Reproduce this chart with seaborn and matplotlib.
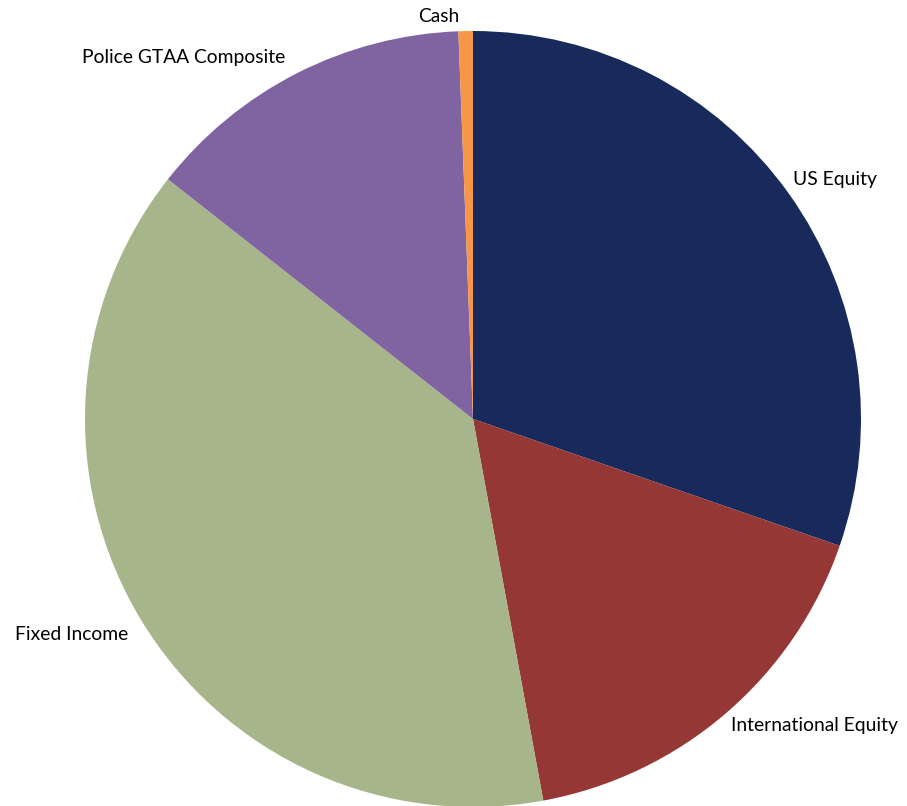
import matplotlib
matplotlib.use("Agg")
import matplotlib.pyplot as plt
import seaborn as sns

sns.set_theme(style="white")
plt.rcParams["font.family"] = ["Lato", "DejaVu Sans"]

# Asset allocation (% of portfolio), clockwise from 12 o'clock
categories = ["US Equity", "International Equity", "Fixed Income",
              "Police GTAA Composite", "Cash"]
weights = [30.3, 16.8, 38.5, 13.8, 0.6]
colors = ["#172A5B", "#953735", "#A7B58A", "#8064A2", "#F79646"]

# label anchor points in figure pixels (x, y from top), left-aligned
label_pos = {
    "US Equity": (793, 179),
    "International Equity": (731, 725),
    "Fixed Income": (15, 635),
    "Police GTAA Composite": (82, 58),
    "Cash": (418, 16),
}

W, H = 907, 806
fig = plt.figure(figsize=(W / 100, H / 100), dpi=100)
cx, cy, r = 473, 419, 388
ax = fig.add_axes([(cx - r) / W, (H - cy - r) / H, 2 * r / W, 2 * r / H])
ax.pie(weights, colors=colors, startangle=90, counterclock=False,
       radius=1.0, wedgeprops=dict(linewidth=0))
ax.set_xlim(-1, 1)
ax.set_ylim(-1, 1)
ax.set_aspect("equal")
ax.axis("off")

for name in categories:
    x, y = label_pos[name]
    fig.text(x / W, 1 - y / H, name, ha="left", va="center",
             fontsize=13.9, color="#000000")

fig.savefig("out.png", dpi=100)
